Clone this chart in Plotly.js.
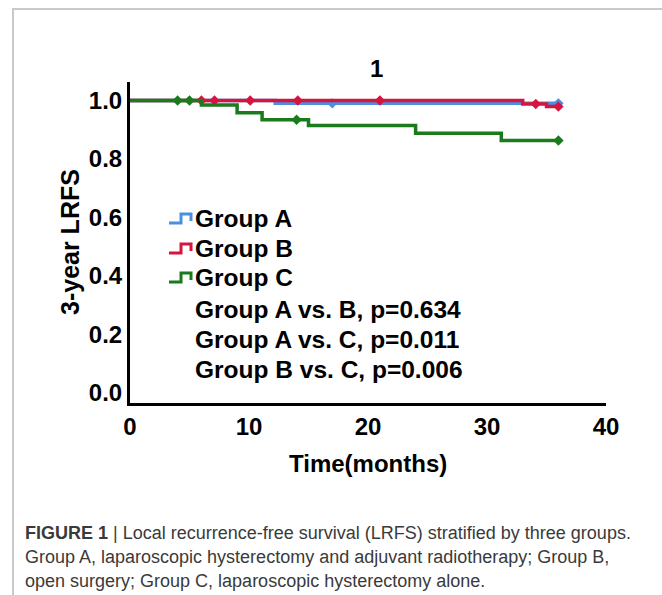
<!DOCTYPE html>
<html>
<head>
<meta charset="utf-8">
<script src="https://cdn.plot.ly/plotly-3.0.1.min.js"></script>
<style>
html,body{margin:0;padding:0;background:#fff;}
#wrap{position:relative;width:662px;height:595px;}
#chart{position:absolute;left:0;top:0;width:662px;height:595px;}
#frame{position:absolute;left:12px;top:8px;width:650px;height:587px;border-top:2px solid #c9c9c9;border-left:2px solid #c9c9c9;pointer-events:none;box-sizing:border-box;}
</style>
</head>
<body>
<div id="wrap"><div id="chart"></div><div id="frame"></div></div>
<script>
// ---- data ----
const groupNames = ["Group A", "Group B", "Group C"];
const groupColors = ["#4a90e2", "#d7143f", "#1b7a1b"];

const groupA_time = [0, 12.2, 36];
const groupA_surv = [1.0, 0.99, 0.99];
const groupA_censorTime = [17, 36];
const groupA_censorSurv = [0.99, 0.99];

const groupB_time = [0, 33, 35, 36];
const groupB_surv = [1.0, 0.988, 0.979, 0.979];
const groupB_censorTime = [6, 7.1, 10.1, 14.1, 21, 34.1, 36];
const groupB_censorSurv = [1.0, 1.0, 1.0, 1.0, 1.0, 0.988, 0.979];

const groupC_time = [0, 6, 9, 11.1, 15, 24, 31.2, 36];
const groupC_surv = [1.0, 0.984, 0.958, 0.934, 0.914, 0.888, 0.863, 0.863];
const groupC_censorTime = [4, 5, 14, 36];
const groupC_censorSurv = [1.0, 1.0, 0.934, 0.863];

const pValueLabels = ["Group A vs. B, p=0.634", "Group A vs. C, p=0.011", "Group B vs. C, p=0.006"];
const yTicks = [0, 0.2, 0.4, 0.6, 0.8, 1.0];
const yTickText = ["0.0", "0.2", "0.4", "0.6", "0.8", "1.0"];
const xTicks = [0, 10, 20, 30, 40];

// ---- layout helpers ----
const L = 130, T = 82, W = 476, H = 321;
const X = px => (px - L) / W;
const Y = py => (T + H - py) / H;
const FONT = "Liberation Sans, Arial, sans-serif";

const series = [
  [groupA_time, groupA_surv, groupA_censorTime, groupA_censorSurv],
  [groupB_time, groupB_surv, groupB_censorTime, groupB_censorSurv],
  [groupC_time, groupC_surv, groupC_censorTime, groupC_censorSurv]
];

const traces = [];
series.forEach((s, i) => {
  traces.push({x: s[0], y: s[1], type: "scatter", mode: "lines",
    line: {shape: "hv", color: groupColors[i], width: 3.5}, name: groupNames[i], showlegend: false, hoverinfo: "skip"});
  traces.push({x: s[2], y: s[3], type: "scatter", mode: "markers",
    marker: {symbol: "diamond", size: 8, color: groupColors[i]}, showlegend: false, hoverinfo: "skip"});
});

const annotations = [];
const shapes = [];
// title
annotations.push({text: "<b>1</b>", x: X(376), y: Y(68), xref: "paper", yref: "paper", showarrow: false,
  xanchor: "center", yanchor: "middle", font: {family: FONT, size: 24, color: "#000"}});
// axis titles
annotations.push({text: "<b>Time(months)</b>", x: X(368), y: Y(464), xref: "paper", yref: "paper", showarrow: false,
  xanchor: "center", yanchor: "middle", font: {family: FONT, size: 24, color: "#000"}});
annotations.push({text: "<b>3-year LRFS</b>", x: X(70), y: Y(242), xref: "paper", yref: "paper", showarrow: false,
  textangle: -90, xanchor: "center", yanchor: "middle", font: {family: FONT, size: 25, color: "#000"}});

// legend
const legendRows = [218, 248, 277];
groupNames.forEach((g, i) => {
  const cy = legendRows[i];
  annotations.push({text: "<b>" + g + "</b>", x: X(193), y: Y(cy), xref: "paper", yref: "paper", showarrow: false,
    xanchor: "left", yanchor: "middle", font: {family: FONT, size: 24.5, color: "#000"}});
  const yl = cy + 5, yh = cy - 4, yr = cy + 3;
  shapes.push({type: "path", xref: "paper", yref: "paper",
    path: `M ${X(169)} ${Y(yl)} L ${X(181)} ${Y(yl)} L ${X(181)} ${Y(yh)} L ${X(191)} ${Y(yh)} L ${X(191)} ${Y(yr)}`,
    line: {color: groupColors[i], width: 3}});
});
const pRows = [309, 339, 369];
pValueLabels.forEach((t, i) => {
  annotations.push({text: "<b>" + t + "</b>", x: X(193), y: Y(pRows[i]), xref: "paper", yref: "paper", showarrow: false,
    xanchor: "left", yanchor: "middle", font: {family: FONT, size: 24.5, color: "#000"}});
});

// caption
const CAP = "Liberation Sans Narrow, Arial Narrow, Liberation Sans, sans-serif";
const captionLines = [
  "<b>FIGURE 1</b> | Local recurrence-free survival (LRFS) stratified by three groups.",
  "Group A, laparoscopic hysterectomy and adjuvant radiotherapy; Group B,",
  "open surgery; Group C, laparoscopic hysterectomy alone."
];
const capRows = [533, 557, 581];
captionLines.forEach((t, i) => {
  annotations.push({text: t, x: X(23), y: Y(capRows[i]), xref: "paper", yref: "paper", showarrow: false,
    xanchor: "left", yanchor: "middle", font: {family: CAP, size: 18, color: "#3a3a3a"}});
});

const layout = {
  width: 662, height: 595,
  margin: {l: L, r: 662 - L - W, t: T, b: 595 - T - H, pad: 0},
  paper_bgcolor: "#fff", plot_bgcolor: "#fff",
  showlegend: false,
  xaxis: {range: [0, 40], tickvals: xTicks, ticktext: xTicks.map(String), showgrid: false, zeroline: false,
    showline: true, linecolor: "#000", linewidth: 3, ticks: "", ticklabelstandoff: 0,
    tickfont: {family: FONT, size: 24, color: "#000", weight: "bold"}},
  yaxis: {range: [-0.034, 1.063], tickvals: yTicks, ticktext: yTickText, showgrid: false, zeroline: false,
    showline: true, linecolor: "#000", linewidth: 3, ticks: "", ticklabelstandoff: 0,
    tickfont: {family: FONT, size: 24, color: "#000", weight: "bold"}},
  annotations: annotations,
  shapes: shapes
};

Plotly.newPlot("chart", traces, layout, {staticPlot: true, displayModeBar: false});
</script>
</body>
</html>
